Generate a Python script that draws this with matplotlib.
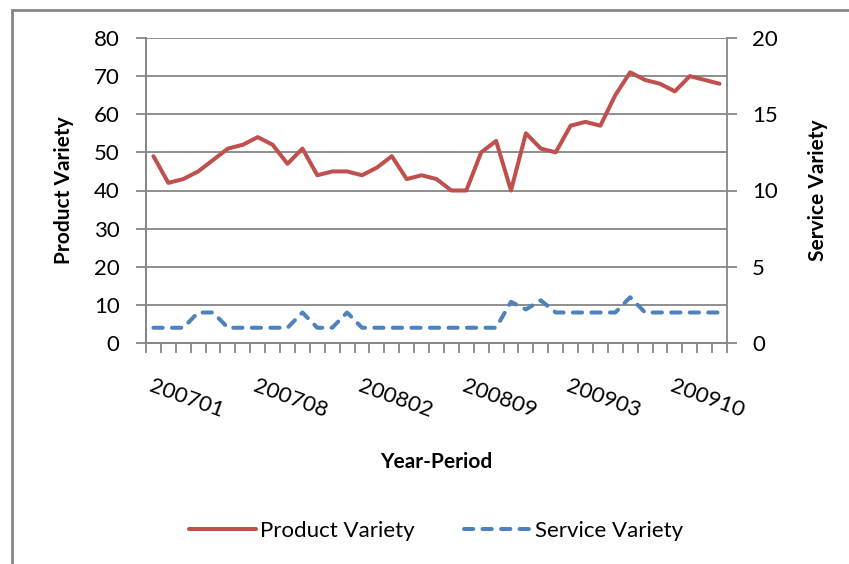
import numpy as np
import matplotlib
matplotlib.use("Agg")
from matplotlib import pyplot as plt
from matplotlib.patches import Rectangle

plt.rcParams['font.family'] = ['Lato', 'DejaVu Sans']

# 13 periods per year, 2007-2009
periods = [f"{y}{p:02d}" for y in (2007, 2008, 2009) for p in range(1, 14)]

product_variety = [49, 42, 43, 45, 48, 51, 52, 54, 52, 47, 51, 44, 45, 45, 44, 46, 49, 43, 44, 43,
                   40, 40, 50, 53, 40, 55, 51, 50, 57, 58, 57, 65, 71, 69, 68, 66, 70, 69, 68]
service_variety = [1, 1, 1, 2, 2, 1, 1, 1, 1, 1, 2, 1, 1, 2, 1, 1, 1, 1, 1, 1,
                   1, 1, 1, 1, 2.7, 2.2, 2.8, 2, 2, 2, 2, 2, 3, 2, 2, 2, 2, 2, 2]

grey = '#868686'
red = '#C0504D'
blue = '#4F81BD'

W, H = 849, 564
fig = plt.figure(figsize=(W / 100, H / 100), dpi=100)
fig.patches.append(Rectangle((12 / W, -0.1), 1.2, 1.1 - 10 / H, transform=fig.transFigure,
                             fill=False, edgecolor=grey, linewidth=2, clip_on=False))

left, right, top, bottom = 146, 727, 38, 343
ax = fig.add_axes([left / W, 1 - bottom / H, (right - left) / W, (bottom - top) / H])
ax2 = ax.twinx()

x = np.arange(len(periods))
l1, = ax.plot(x, product_variety, color=red, lw=2.9, solid_capstyle='round',
              solid_joinstyle='round', label='Product Variety')
l2, = ax2.plot(x, service_variety, color=blue, lw=2.9, linestyle=(0, (2.3, 2.3)),
               dash_capstyle='round', label='Service Variety')

ax.set_xlim(-0.5, len(periods) - 0.5)
ax.set_ylim(0, 80)
ax2.set_ylim(0, 20)
ax.set_yticks(range(0, 81, 10))
ax2.set_yticks(range(0, 21, 5))
ax.yaxis.grid(True, color=grey, lw=1.3)
ax.set_axisbelow(True)

for a in (ax, ax2):
    for s in a.spines.values():
        s.set_color(grey)
        s.set_linewidth(1.3)
    a.spines['top'].set_visible(False)
ax.spines['right'].set_visible(False)

ax.tick_params(axis='y', direction='out', length=7, width=1.3, color=grey, pad=12, labelsize=16)
ax2.tick_params(axis='y', direction='out', length=7, width=1.3, color=grey, pad=11, labelsize=16)

ax.set_xticks(x[::7])
ax.set_xticklabels(periods[::7], rotation=-20, ha='left', va='top', rotation_mode='anchor')
ax.tick_params(axis='x', which='major', length=0, pad=24, labelsize=16)
ax.set_xticks(np.arange(-0.5, len(periods)), minor=True)
ax.tick_params(axis='x', which='minor', direction='out', length=7, width=1.3, color=grey)

ax.set_ylabel('Product Variety', fontsize=15, fontweight='bold', labelpad=14)
ax2.set_ylabel('Service Variety', fontsize=15, fontweight='bold', labelpad=22)
fig.text(436 / W, 1 - 462 / H, 'Year-Period', fontsize=15, fontweight='bold',
         ha='center', va='center')

fig.legend(handles=[l1, l2], loc='center', bbox_to_anchor=(436 / W, 1 - 531 / H), ncol=2,
           frameon=False, fontsize=16, handlelength=3, handletextpad=0.2, columnspacing=2.2)

fig.savefig('out.png', dpi=100)
